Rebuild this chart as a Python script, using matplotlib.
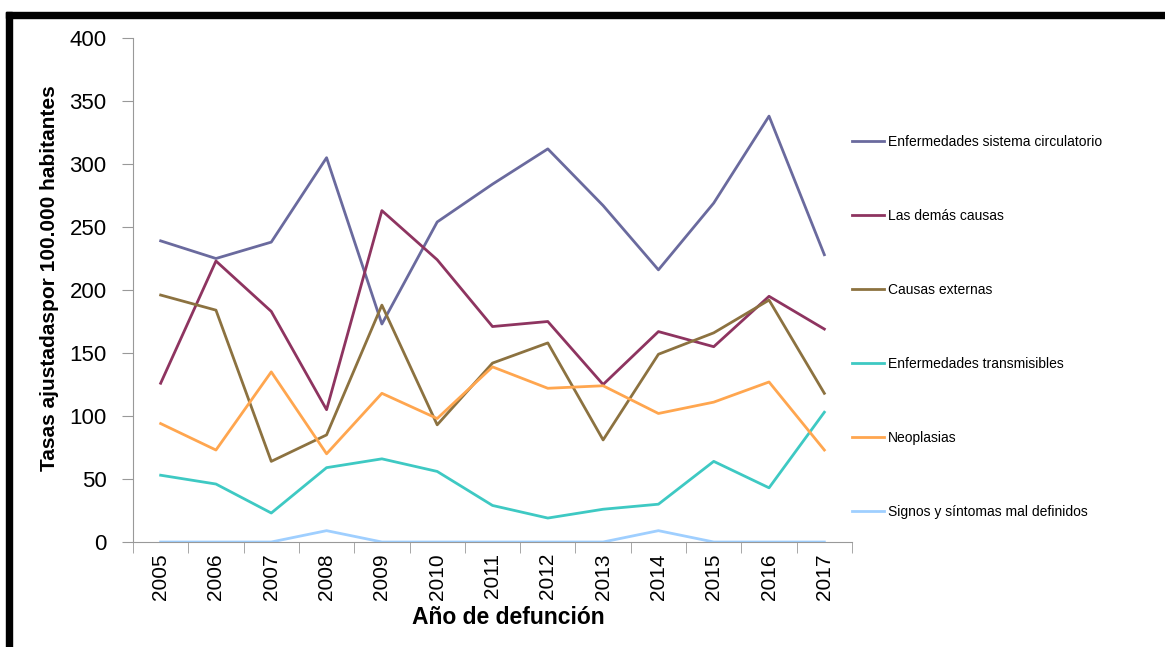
import matplotlib.pyplot as plt
from matplotlib.patches import Rectangle

years = [str(y) for y in range(2005, 2018)]

circulatorio = [239, 225, 238, 305, 173, 254, 284, 312, 267, 216, 269, 338, 228]
demas = [126, 223, 183, 105, 263, 224, 171, 175, 125, 167, 155, 195, 169]
externas = [196, 184, 64, 85, 188, 93, 142, 158, 81, 149, 166, 192, 118]
transmisibles = [53, 46, 23, 59, 66, 56, 29, 19, 26, 30, 64, 43, 103]
neoplasias = [94, 73, 135, 70, 118, 98, 139, 122, 124, 102, 111, 127, 73]
signos = [0, 0, 0, 9, 0, 0, 0, 0, 0, 9, 0, 0, 0]

series = [
    ("Enfermedades sistema circulatorio", circulatorio, "#6a6a9e"),
    ("Las demás causas", demas, "#8e3460"),
    ("Causas externas", externas, "#8c7240"),
    ("Enfermedades transmisibles", transmisibles, "#3ec9c3"),
    ("Neoplasias", neoplasias, "#ffa64f"),
    ("Signos y síntomas mal definidos", signos, "#9fcfff"),
]

plt.rcParams['font.family'] = ['Liberation Sans', 'DejaVu Sans']

fig = plt.figure(figsize=(11.65, 6.47), dpi=100)
ax = fig.add_axes([133/1165, 105/647, (852-133)/1165, (542-38)/647])

x = list(range(len(years)))
for name, vals, col in series:
    ax.plot(x, vals, color=col, lw=2.0, label=name)

ax.set_xlim(-0.5, len(years) - 0.5)
ax.set_ylim(0, 400)
ax.set_yticks(range(0, 401, 50))
ax.set_yticklabels([str(v) for v in range(0, 401, 50)], fontsize=16)
ax.set_xticks(x)
ax.set_xticklabels(years, rotation=90, fontsize=15)
ax.set_xticks([i - 0.5 for i in range(len(years) + 1)], minor=True)
ax.tick_params(axis='x', which='major', length=0, pad=8)
ax.tick_params(axis='x', which='minor', length=8, color='#999999')
ax.tick_params(axis='y', length=8, color='#999999', pad=11)
for s in ['top', 'right']:
    ax.spines[s].set_visible(False)
for s in ['left', 'bottom']:
    ax.spines[s].set_color('#999999')

ax.set_ylabel("Tasas ajustadaspor 100.000 habitantes", fontsize=15, fontweight='bold')
ax.yaxis.set_label_coords(-0.103, (542 - 278) / 504)
ax.set_xlabel("Año de defunción", fontsize=16.5, fontweight='bold')
ax.xaxis.set_label_coords((508 - 133) / 719, -(606 - 542) / 504)

leg = ax.legend(loc='upper left', bbox_to_anchor=(0.992, 0.8195), frameon=False,
                prop={'size': 10}, handlelength=2.3, handletextpad=0.3,
                labelspacing=4.32, borderaxespad=0)

fig.patches.append(Rectangle((6/1165, 629/647), 1 - 6/1165, 6/647, transform=fig.transFigure,
                             color='black', zorder=10))
fig.patches.append(Rectangle((6/1165, 0), 6/1165, 635/647, transform=fig.transFigure,
                             color='black', zorder=10))

fig.savefig("out.png", dpi=100)
